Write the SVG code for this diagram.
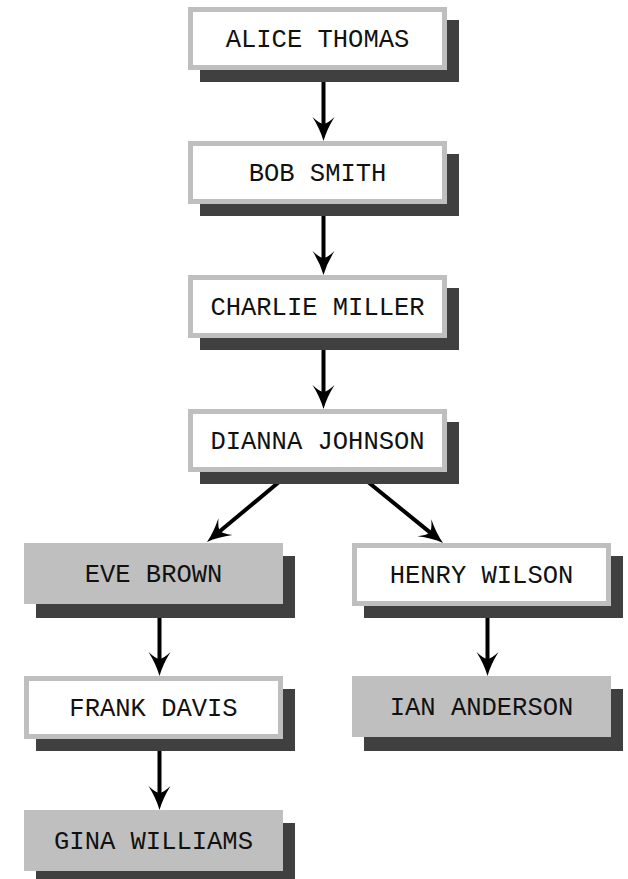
<svg xmlns="http://www.w3.org/2000/svg" width="628" height="879" viewBox="0 0 628 879">
<defs>
<style>
.sh{fill:#404040}
.bw{fill:#ffffff;stroke:#bfbfbf;stroke-width:5}
.bg{fill:#bfbfbf}
.t{font-family:"Liberation Mono","Courier New",monospace;font-size:25.5px;fill:#111;text-anchor:middle}
.c{stroke:#000;stroke-width:4;fill:none}
</style>
<marker id="ah" markerUnits="userSpaceOnUse" markerWidth="30" markerHeight="30" viewBox="-3 -15 30 30" refX="12" refY="0" orient="auto">
<path d="M24,0 Q12,-3.5 0,-11 Q7,-3.5 7,0 Q7,3.5 0,11 Q12,3.5 24,0 Z" fill="#000"/>
</marker>
</defs>
<g id="connectors">
<line class="c" x1="323.5" y1="82" x2="323.5" y2="129" marker-end="url(#ah)"/>
<line class="c" x1="323.5" y1="216" x2="323.5" y2="263" marker-end="url(#ah)"/>
<line class="c" x1="323.5" y1="350" x2="323.5" y2="397" marker-end="url(#ah)"/>
<line class="c" x1="279" y1="482" x2="216.2" y2="534.3" marker-end="url(#ah)"/>
<line class="c" x1="368" y1="482" x2="433.7" y2="535.4" marker-end="url(#ah)"/>
<line class="c" x1="159.5" y1="618" x2="159.5" y2="664" marker-end="url(#ah)"/>
<line class="c" x1="159.5" y1="751" x2="159.5" y2="798" marker-end="url(#ah)"/>
<line class="c" x1="487.5" y1="618" x2="487.5" y2="664" marker-end="url(#ah)"/>
</g>
<g id="alice">
<rect class="sh" x="200" y="20" width="259" height="62"/>
<rect class="bw" x="190.5" y="9.5" width="254" height="58"/>
<text class="t" x="317.5" y="47">ALICE THOMAS</text>
</g>
<g id="bob">
<rect class="sh" x="200" y="154" width="259" height="62"/>
<rect class="bw" x="190.5" y="143.5" width="254" height="58"/>
<text class="t" x="317.5" y="181">BOB SMITH</text>
</g>
<g id="charlie">
<rect class="sh" x="200" y="288" width="259" height="62"/>
<rect class="bw" x="190.5" y="277.5" width="254" height="58"/>
<text class="t" x="317.5" y="315">CHARLIE MILLER</text>
</g>
<g id="dianna">
<rect class="sh" x="200" y="422" width="259" height="62"/>
<rect class="bw" x="190.5" y="411.5" width="254" height="58"/>
<text class="t" x="317.5" y="449">DIANNA JOHNSON</text>
</g>
<g id="eve">
<rect class="sh" x="36" y="556" width="259" height="62"/>
<rect class="bg" x="24" y="543" width="259" height="61"/>
<text class="t" x="153.5" y="582">EVE BROWN</text>
</g>
<g id="frank">
<rect class="sh" x="36" y="689" width="259" height="62"/>
<rect class="bw" x="26.5" y="678.5" width="254" height="58"/>
<text class="t" x="153.5" y="716">FRANK DAVIS</text>
</g>
<g id="gina">
<rect class="sh" x="36" y="823" width="259" height="62"/>
<rect class="bg" x="24" y="810" width="259" height="61"/>
<text class="t" x="153.5" y="849">GINA WILLIAMS</text>
</g>
<g id="henry">
<rect class="sh" x="364" y="556" width="259" height="62"/>
<rect class="bw" x="354.5" y="545.5" width="254" height="58"/>
<text class="t" x="481.5" y="583">HENRY WILSON</text>
</g>
<g id="ian">
<rect class="sh" x="364" y="689" width="259" height="62"/>
<rect class="bg" x="352" y="676" width="259" height="61"/>
<text class="t" x="481.5" y="715">IAN ANDERSON</text>
</g>
</svg>
